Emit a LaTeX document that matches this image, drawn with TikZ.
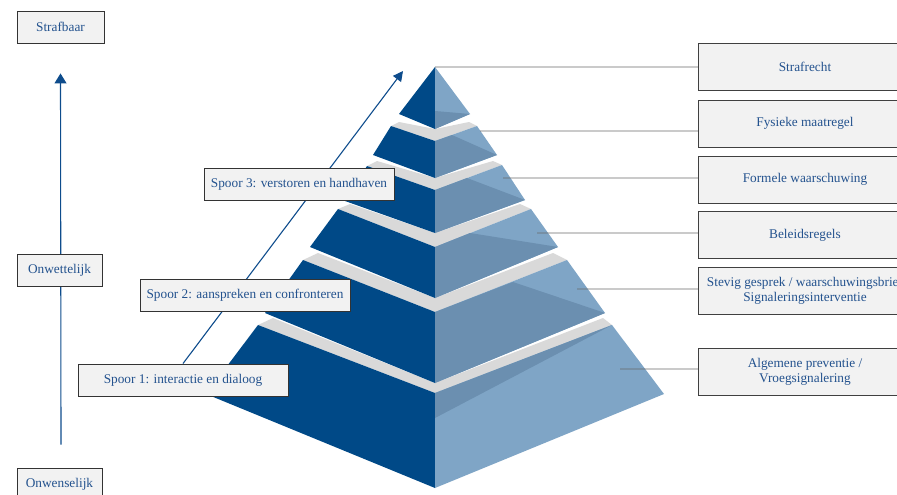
\documentclass[tikz,border=0pt]{standalone}
\usepackage{fontspec}
\setmainfont{Liberation Serif}
\usetikzlibrary{arrows.meta}

\definecolor{donkerblauw}{RGB}{0,73,135}
\definecolor{lichtblauw}{RGB}{127,165,198}
\definecolor{schaduw}{RGB}{107,143,176}
\definecolor{bandgrijs}{RGB}{217,217,217}
\definecolor{tekstblauw}{RGB}{35,82,142}
\definecolor{pijlblauw}{RGB}{14,76,140}
\definecolor{kader}{RGB}{242,242,242}

\tikzstyle{blok} = [rectangle, minimum width=214pt, minimum height=47pt, inner sep=0pt, align=center, fill=kader, draw=black!75, line width=0.9pt, text=tekstblauw, font=\fontsize{13.3}{15}\selectfont]
\tikzstyle{spoorblok} = [rectangle, minimum height=32pt, inner sep=0pt, fill=kader, draw=black!80, line width=0.9pt, text=tekstblauw, font=\fontsize{13.3}{15}\selectfont]
\tikzstyle{lijn} = [draw=black!60, opacity=0.35, line width=1.2pt]
\tikzstyle{pijl} = [draw=pijlblauw, line width=1.1pt]

\begin{document}
\begin{tikzpicture}[x=1pt, y=-1pt]
	\path[use as bounding box] (0,0) rectangle (897,495);
	\clip (0,0) rectangle (897,495);

	% piramide, van onder naar boven
	\fill[bandgrijs] (258,325) -- (435,393) -- (612,325) -- (603,318) -- (435,383) -- (273,318) -- cycle;
	\fill[donkerblauw] (258,325) -- (435,393) -- (435,488) -- (206,394) -- cycle;
	\fill[lichtblauw] (435,393) -- (612,325) -- (664,394) -- (435,488) -- cycle;
	\fill[schaduw] (435,393) -- (612,325) -- (435,418) -- cycle;

	\fill[bandgrijs] (303,260) -- (435,312) -- (567,260) -- (553,253) -- (435,298) -- (318,253) -- cycle;
	\fill[donkerblauw] (303,260) -- (435,312) -- (435,383) -- (265,313) -- cycle;
	\fill[lichtblauw] (435,312) -- (567,260) -- (605,313) -- (435,383) -- cycle;
	\fill[schaduw] (435,312) -- (513,282) -- (605,313) -- (435,383) -- cycle;

	\fill[bandgrijs] (338,209) -- (435,247) -- (531,209) -- (520,204) -- (435,233) -- (350,204) -- cycle;
	\fill[donkerblauw] (338,209) -- (435,247) -- (435,298) -- (310,247) -- cycle;
	\fill[lichtblauw] (435,247) -- (531,209) -- (558,247) -- (435,298) -- cycle;
	\fill[schaduw] (435,247) -- (470,233) -- (558,247) -- (435,298) -- cycle;

	\fill[bandgrijs] (367,166) -- (435,190) -- (502,165) -- (493,161) -- (435,178) -- (377,161) -- cycle;
	\fill[donkerblauw] (367,166) -- (435,190) -- (435,233) -- (345,201) -- cycle;
	\fill[lichtblauw] (435,190) -- (502,165) -- (525,200) -- (435,233) -- cycle;
	\fill[schaduw] (435,190) -- (467,178) -- (525,200) -- (435,233) -- cycle;

	\fill[bandgrijs] (391,126) -- (435,141) -- (477,126) -- (469,122) -- (435,129) -- (399,122) -- cycle;
	\fill[donkerblauw] (391,126) -- (435,141) -- (435,178) -- (373,155) -- cycle;
	\fill[lichtblauw] (435,141) -- (477,126) -- (497,155) -- (435,178) -- cycle;
	\fill[schaduw] (435,141) -- (452,135) -- (497,155) -- (435,178) -- cycle;

	\fill[donkerblauw] (435,67) -- (435,129) -- (399,114) -- cycle;
	\fill[lichtblauw] (435,67) -- (470,114) -- (435,129) -- cycle;
	\fill[schaduw] (435,111) -- (470,114) -- (435,129) -- cycle;

	% maatregelen rechts
	\node (strafrecht) [blok] at (805,66.5) {Strafrecht};
	\node (fysiek)     [blok] at (805,123.5) {Fysieke maatregel};
	\node (formeel)    [blok] at (805,179.5) {Formele waarschuwing};
	\node (beleid)     [blok] at (805,235) {Beleidsregels};
	\node (gesprek)    [blok] at (805,290.5) {Stevig gesprek / waarschuwingsbrief\\Signaleringsinterventie};
	\node (preventie)  [blok] at (805,371.5) {Algemene preventie /\\Vroegsignalering};

	\coordinate (p1) at (435,67);
	\coordinate (p2) at (480,131);
	\coordinate (p3) at (503,178);
	\coordinate (p4) at (537,233);
	\coordinate (p5) at (577,289);
	\coordinate (p6) at (620,369);
	\draw[lijn] (p1) -- (p1 -| strafrecht.west);
	\draw[lijn] (p2) -- (p2 -| fysiek.west);
	\draw[lijn] (p3) -- (p3 -| formeel.west);
	\draw[lijn] (p4) -- (p4 -| beleid.west);
	\draw[lijn] (p5) -- (p5 -| gesprek.west);
	\draw[lijn] (p6) -- (p6 -| preventie.west);

	% schaal links
	\node (strafbaar)   [spoorblok, minimum width=87pt] at (60.5,27) {Strafbaar};
	\node (onwenselijk) [spoorblok, minimum width=85pt] at (59.5,484) {Onwenselijk};
	\draw[pijl, -{Triangle[length=10pt,width=12pt]}] ([xshift=1.5pt, yshift=23pt]onwenselijk.north) -- ([yshift=-30pt]strafbaar.south);
	\node (onwettelijk) [spoorblok, minimum width=85pt] at (59.5,270) {Onwettelijk};

	% sporen
	\node (spoor1) [spoorblok, minimum width=210pt] at (183,380) {Spoor 1: interactie en dialoog};
	\coordinate (top) at (403,71);
	\draw[pijl, -{Triangle[length=10pt,width=10pt]}] (spoor1.north) -- (top);
	\node (spoor2) [spoorblok, minimum width=210pt] at (245,295) {Spoor 2: aanspreken en confronteren};
	\node (spoor3) [spoorblok, minimum width=190pt] at (299,184) {Spoor 3: verstoren en handhaven};
\end{tikzpicture}
\end{document}
